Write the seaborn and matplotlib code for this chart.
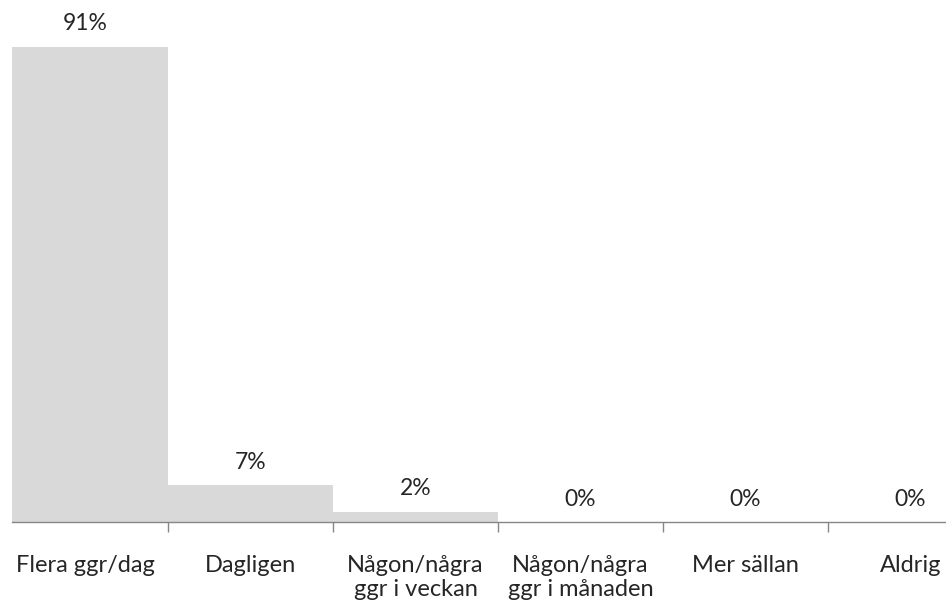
import matplotlib.pyplot as plt
import numpy as np
import pandas as pd
import seaborn as sns

categories = ['Flera ggr/dag', 'Dagligen', 'Någon/några\nggr i veckan',
              'Någon/några\nggr i månaden', 'Mer sällan', 'Aldrig']
values = [91, 7, 2, 0, 0, 0]
value_labels = ['91%', '7%', '2%', '0%', '0%', '0%']

df = pd.DataFrame({'svar': categories, 'andel': values})

sns.set_style('white')
plt.rcParams['font.family'] = ['Lato', 'DejaVu Sans']

fig = plt.figure(figsize=(9.46, 6.12), dpi=100)
ax = fig.add_axes([12 / 946, 90 / 612, 1 - 12 / 946, 1 - 90 / 612])

sns.barplot(data=df, x='svar', y='andel', color='#D9D9D9', width=1.0,
            saturation=1, edgecolor='none', linewidth=0, ax=ax)

for i, (v, lab) in enumerate(zip(values, value_labels)):
    ax.annotate(lab, (i, v), xytext=(0, 9), textcoords='offset points',
                ha='center', va='bottom', fontsize=16.5, color='#262626')

ax.set_xlim(-0.5 + 9 / 165, -0.5 + 943 / 165)
ax.set_ylim(0, 100)
ax.set_xlabel('')
ax.set_ylabel('')
ax.set_yticks([])

for s in ['top', 'right', 'left']:
    ax.spines[s].set_visible(False)
ax.spines['bottom'].set_color('#868686')
ax.spines['bottom'].set_linewidth(1)

ax.set_xticks(range(len(categories)))
ax.set_xticklabels(categories, fontsize=17, color='#262626', linespacing=1.15)
ax.set_xticks(np.arange(0.5, len(categories) - 0.5, 1), minor=True)
ax.tick_params(axis='x', which='major', length=0, pad=24)
ax.tick_params(axis='x', which='minor', length=7, width=1, color='#868686',
               direction='out')
ax.xaxis.set_tick_params(which='minor', bottom=True)

fig.savefig('out.png', dpi=100)
